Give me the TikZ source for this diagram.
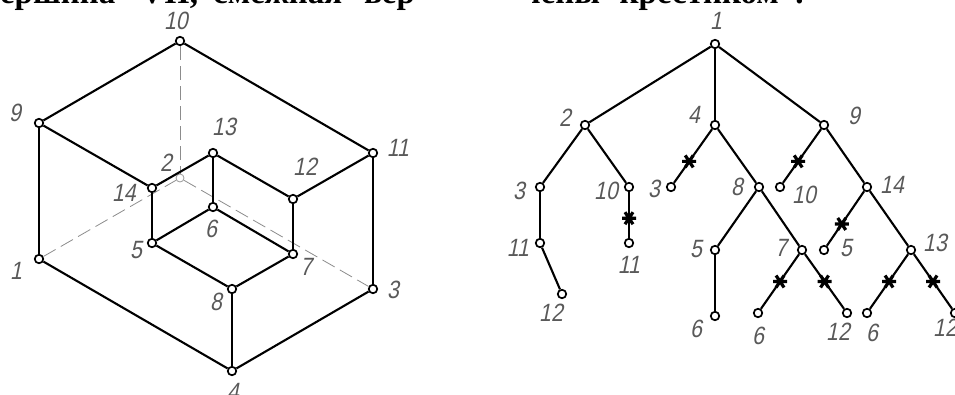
\documentclass[tikz,border=0pt]{standalone}
\usepackage{fontspec}
\setmainfont{Liberation Serif}
\newfontfamily\gostfont[FakeSlant=0.2,FakeStretch=0.85]{Liberation Sans}
\usetikzlibrary{positioning}

\begin{document}
\begin{tikzpicture}[x=1pt,y=-1pt,
                    vert/.style={draw, circle, fill=white, line width=1.7pt, inner sep=0pt, minimum size=8.5pt},
                    backvert/.style={draw=black!40, circle, fill=white, line width=0.8pt, inner sep=0pt, minimum size=8pt},
                    lab/.style={font=\gostfont\fontsize{25}{25}\selectfont, text=black!65, inner sep=0pt},
                    edge/.style={line width=2.1pt},
                    hidden/.style={draw=black!45, line width=0.8pt, dash pattern=on 14pt off 6pt},
                    cutmark/.pic={\draw[line width=3.2pt] (-7,0) -- (7,0) (-4,-6) -- (4,6) (-4,6) -- (4,-6);},
                    head/.style={font=\fontsize{33}{33}\selectfont\bfseries, inner sep=0pt, anchor=base west}]
\useasboundingbox (0,0) rectangle (955,394);
\clip (0,0) rectangle (955,394);
% heading lines
\node[head] (headl) at (-18,3) {вершина\hspace{25pt}VII,\hspace{15pt}смежная\hspace{22pt}вер};
\node[head] (headr) at (522,3) {чены\hspace{3pt}"крестиком".};
% solid
\node[vert] (v1) at (39,259) {};
\node[backvert] (v2) at (180,178) {};
\node[vert] (v3) at (373,289) {};
\node[vert] (v4) at (232,371) {};
\node[vert] (v5) at (152,243) {};
\node[vert] (v6) at (213,207) {};
\node[vert] (v7) at (293,254) {};
\node[vert] (v8) at (232,289) {};
\node[vert] (v9) at (39,123) {};
\node[vert] (v10) at (180,41) {};
\node[vert] (v11) at (373,153) {};
\node[vert] (v12) at (293,199) {};
\node[vert] (v13) at (213,153) {};
\node[vert] (v14) at (152,188) {};
\draw[hidden] (v10) -- (v2);
\draw[hidden] (v1) -- (v2);
\draw[hidden] (v2) -- (v3);
\draw[edge] (v10) -- (v9);
\draw[edge] (v10) -- (v11);
\draw[edge] (v9) -- (v14);
\draw[edge] (v14) -- (v13);
\draw[edge] (v13) -- (v12);
\draw[edge] (v12) -- (v11);
\draw[edge] (v9) -- (v1);
\draw[edge] (v11) -- (v3);
\draw[edge] (v1) -- (v4);
\draw[edge] (v4) -- (v3);
\draw[edge] (v4) -- (v8);
\draw[edge] (v8) -- (v5);
\draw[edge] (v8) -- (v7);
\draw[edge] (v5) -- (v6);
\draw[edge] (v6) -- (v7);
\draw[edge] (v14) -- (v5);
\draw[edge] (v13) -- (v6);
\draw[edge] (v12) -- (v7);
% numbers on the solid
\node[lab] (l10) at (176,21) {10};
\node[lab] (l9) at (15,113) {9};
\node[lab] (l11) at (398,148) {11};
\node[lab] (l13) at (224,127) {13};
\node[lab] (l2) at (166,163) {2};
\node[lab] (l14) at (124,193) {14};
\node[lab] (l12) at (305,167) {12};
\node[lab] (l6) at (211,229) {6};
\node[lab] (l5) at (136,250) {5};
\node[lab] (l7) at (306,267) {7};
\node[lab] (l8) at (216,302) {8};
\node[lab] (l1) at (16,271) {1};
\node[lab] (l3) at (393,290) {3};
\node[lab] (l4) at (233,392) {4};
% tree
\node[vert] (t1) at (715,44) {};
\node[vert] (t2) at (585,125) {};
\node[vert] (t4) at (715,125) {};
\node[vert] (t9) at (824,125) {};
\node[vert] (t3) at (540,187) {};
\node[vert] (t10) at (629,187) {};
\node[vert] (t3b) at (671,187) {};
\node[vert] (t8) at (759,187) {};
\node[vert] (t10b) at (780,187) {};
\node[vert] (t14) at (867,187) {};
\node[vert] (t11) at (540,243) {};
\node[vert] (t11b) at (629,243) {};
\node[vert] (t5) at (715,250) {};
\node[vert] (t7) at (802,250) {};
\node[vert] (t5b) at (824,250) {};
\node[vert] (t13) at (911,250) {};
\node[vert] (t12) at (562,294) {};
\node[vert] (t6) at (715,316) {};
\node[vert] (t6b) at (758,313) {};
\node[vert] (t12b) at (847,313) {};
\node[vert] (t6c) at (867,313) {};
\node[vert] (t12c) at (955,313) {};
\draw[edge] (t1) -- (t2);
\draw[edge] (t1) -- (t4);
\draw[edge] (t1) -- (t9);
\draw[edge] (t2) -- (t3);
\draw[edge] (t2) -- (t10);
\draw[edge] (t3) -- (t11);
\draw[edge] (t11) -- (t12);
\draw[edge] (t10) -- pic[pos=.57] {cutmark} (t11b);
\draw[edge] (t4) -- pic[pos=.6] {cutmark} (t3b);
\draw[edge] (t4) -- (t8);
\draw[edge] (t8) -- (t5);
\draw[edge] (t8) -- (t7);
\draw[edge] (t5) -- (t6);
\draw[edge] (t7) -- pic {cutmark} (t6b);
\draw[edge] (t7) -- pic {cutmark} (t12b);
\draw[edge] (t9) -- pic[pos=.6] {cutmark} (t10b);
\draw[edge] (t9) -- (t14);
\draw[edge] (t14) -- pic[pos=.6] {cutmark} (t5b);
\draw[edge] (t14) -- (t13);
\draw[edge] (t13) -- pic {cutmark} (t6c);
\draw[edge] (t13) -- pic {cutmark} (t12c);
% numbers on the tree
\node[lab] (n1) at (716,21) {1};
\node[lab] (n2) at (565,118) {2};
\node[lab] (n4) at (694,115) {4};
\node[lab] (n9) at (854,116) {9};
\node[lab] (n3) at (519,191) {3};
\node[lab] (n10) at (606,191) {10};
\node[lab] (n3b) at (654,189) {3};
\node[lab] (n8) at (737,187) {8};
\node[lab] (n10b) at (804,195) {10};
\node[lab] (n14) at (892,185) {14};
\node[lab] (n11) at (518,248) {11};
\node[lab] (n11b) at (629,265) {11};
\node[lab] (n5) at (696,249) {5};
\node[lab] (n7) at (781,248) {7};
\node[lab] (n5b) at (846,248) {5};
\node[lab] (n13) at (935,243) {13};
\node[lab] (n12) at (551,313) {12};
\node[lab] (n6) at (696,329) {6};
\node[lab] (n6b) at (758,336) {6};
\node[lab] (n12b) at (838,332) {12};
\node[lab] (n6c) at (872,333) {6};
\node[lab] (n12c) at (945,328) {12};
\end{tikzpicture}
\end{document}
